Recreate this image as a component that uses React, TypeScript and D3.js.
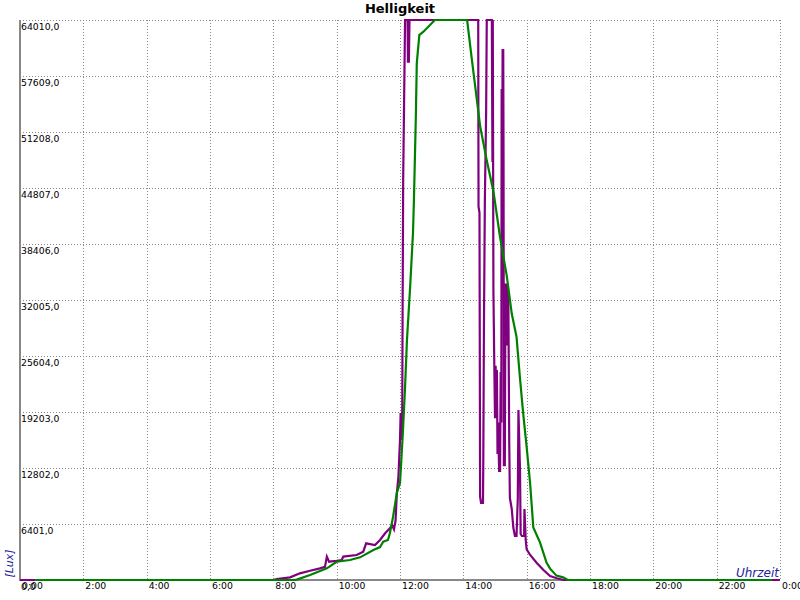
import React from "react";
import * as d3 from "d3";

// ---- data ----
const hourTicks = [0, 2, 4, 6, 8, 10, 12, 14, 16, 18, 20, 22, 24];
const hourLabels = ["0:00", "2:00", "4:00", "6:00", "8:00", "10:00", "12:00", "14:00", "16:00", "18:00", "20:00", "22:00", "0:00"];
const luxTicks = [0, 6401, 12802, 19203, 25604, 32005, 38406, 44807, 51208, 57609, 64010];
const luxLabels = ["0,0", "6401,0", "12802,0", "19203,0", "25604,0", "32005,0", "38406,0", "44807,0", "51208,0", "57609,0", "64010,0"];

// measured brightness (purple)
const purpleHours = [
  0, 8.0, 8.11, 8.53, 8.84, 9.16, 9.47, 9.63, 9.69, 9.76, 10.0, 10.16, 10.21, 10.63, 10.84, 10.93,
  11.21, 11.37, 11.53, 11.68, 11.75, 11.81, 11.86, 11.9, 11.95, 12.0, 12.02, 12.05, 12.07, 12.08, 12.1,
  12.16, 12.24, 12.25, 12.28, 12.3, 14.47, 14.48, 14.51, 14.53, 14.56, 14.62, 14.63, 14.65, 14.68, 14.72,
  14.74, 14.9, 14.92, 14.93, 14.95, 14.98, 15.0, 15.02, 15.04, 15.06, 15.08, 15.1, 15.13, 15.16, 15.17,
  15.18, 15.2, 15.21, 15.23, 15.24, 15.26, 15.27, 15.28, 15.31, 15.33, 15.36, 15.38, 15.39, 15.42, 15.45,
  15.47, 15.53, 15.58, 15.63, 15.68, 15.72, 15.74, 15.79, 15.81, 15.85, 15.92, 15.93, 15.97, 16.0, 16.11,
  16.32, 16.53, 16.74, 16.95, 17.16, 24,
];
const purpleLux = [
  0, 0, 100, 300, 760, 1060, 1330, 1500, 2670, 2090, 2200, 2290, 2670, 2860, 3240, 4190,
  4000, 4570, 5340, 5910, 6290, 5800, 6800, 9910, 11810, 16000, 19090, 16000, 19000, 28580, 45720,
  64010, 64010, 59240, 59240, 64010, 64010, 42670, 42000, 9500, 8800, 8800, 13370, 28580, 43430, 53490,
  64010, 64010, 47770, 64010, 33000, 24000, 18500, 24500, 18500, 24000, 14400, 18000, 12460, 12460, 18180,
  23770, 18000, 56120, 48000, 60580, 60580, 47770, 13140, 13140, 33900, 26800, 33900, 26800, 33000, 15540,
  9370, 8110, 5940, 5030, 5030, 9370, 19430, 12460, 5260, 5030, 5030, 8110, 4570, 3500, 2860,
  1940, 1140, 460, 200, 0, 0,
];

// averaged brightness (green)
const greenHours = [
  0.47, 8.6, 8.74, 9.16, 9.69, 10.0, 10.42, 10.74, 11.16, 11.37, 11.47, 11.62, 11.68, 11.78, 11.9, 12.0,
  12.09, 12.16, 12.22, 12.32, 12.41, 12.44, 12.5, 12.53, 12.61, 12.74, 13.1, 14.12, 14.26, 14.53, 14.74,
  14.95, 15.16, 15.37, 15.53, 15.68, 15.79, 15.89, 16.0, 16.11, 16.21, 16.42, 16.63, 16.74, 16.94, 17.15,
  17.3, 23.74,
];
const greenLux = [
  0, 0, 50, 570, 1330, 2090, 2290, 2590, 3430, 3770, 4380, 4570, 5340, 7200, 9940, 11090,
  16800, 22060, 27430, 33490, 39660, 43430, 52920, 59090, 62290, 62670, 64010, 64010, 59760, 51880, 47940,
  44440, 39180, 34800, 30430, 27800, 23000, 19040, 15200, 11000, 6000, 4300, 1960, 1300, 500, 300,
  0, 0,
];

const W = 800;
const H = 600;
const L = 20, R = 780, T = 20, B = 580;

export default function App() {
  const x = d3.scaleLinear().domain([0, 24]).range([L, R]);
  const y = d3.scaleLinear().domain([0, 64010]).range([B, T]);

  const line = d3
    .line<[number, number]>()
    .x((d) => x(d[0]))
    .y((d) => y(d[1]));

  const purple = line(purpleHours.map((h, i) => [h, purpleLux[i]] as [number, number])) || "";
  const green = line(greenHours.map((h, i) => [h, greenLux[i]] as [number, number])) || "";

  const font = "'DejaVu Sans', sans-serif";

  return (
    <svg
      width={W}
      height={H}
      style={{ position: "absolute", left: 0, top: 0, background: "#fff" }}
    >
      <rect x={0} y={0} width={W} height={H} fill="#fff" />
      {/* grid */}
      {hourTicks.slice(1).map((h) => (
        <line
          key={"vx" + h}
          x1={Math.round(x(h)) + 0.5}
          x2={Math.round(x(h)) + 0.5}
          y1={T}
          y2={B}
          stroke="#888"
          strokeWidth={1}
          strokeDasharray="1,2"
          shapeRendering="crispEdges"
        />
      ))}
      {luxTicks.slice(1).map((v) => (
        <line
          key={"hy" + v}
          x1={L}
          x2={R}
          y1={Math.round(y(v)) + 0.5}
          y2={Math.round(y(v)) + 0.5}
          stroke="#888"
          strokeWidth={1}
          strokeDasharray="1,2"
          shapeRendering="crispEdges"
        />
      ))}
      {/* axes */}
      <line x1={L} x2={L} y1={T} y2={B + 1} stroke="#888" strokeWidth={2} shapeRendering="crispEdges" />
      <line x1={L} x2={R} y1={B} y2={B} stroke="#888" strokeWidth={2} shapeRendering="crispEdges" />
      {/* y labels */}
      {luxTicks.map((v, i) => (
        <text key={"yl" + v} x={L + 1} y={y(v) + 10} fontFamily={font} fontSize={9.3} fill="#000">
          {luxLabels[i]}
        </text>
      ))}
      {/* x labels */}
      {hourTicks.map((h, i) => (
        <text key={"xl" + i} x={x(h) + 2} y={589} fontFamily={font} fontSize={9.3} fill="#000">
          {hourLabels[i]}
        </text>
      ))}
      {/* data lines */}
      <path d={purple} fill="none" stroke="#800080" strokeWidth={2.2} strokeLinejoin="miter" />
      <path d={green} fill="none" stroke="#008000" strokeWidth={2.2} strokeLinejoin="miter" />
      {/* title */}
      <text x={400} y={12.7} textAnchor="middle" fontFamily={font} fontSize={13} fontWeight="bold" fill="#000">
        Helligkeit
      </text>
      {/* axis titles */}
      <text
        x={779}
        y={577}
        textAnchor="end"
        fontFamily={font}
        fontSize={12}
        fontStyle="italic"
        fill="#22229a"
      >
        Uhrzeit
      </text>
      <text
        transform="translate(12.5,563.5) rotate(-90)"
        textAnchor="middle"
        fontFamily={font}
        fontSize={11}
        fontStyle="italic"
        fill="#22229a"
      >
        [Lux]
      </text>
    </svg>
  );
}
